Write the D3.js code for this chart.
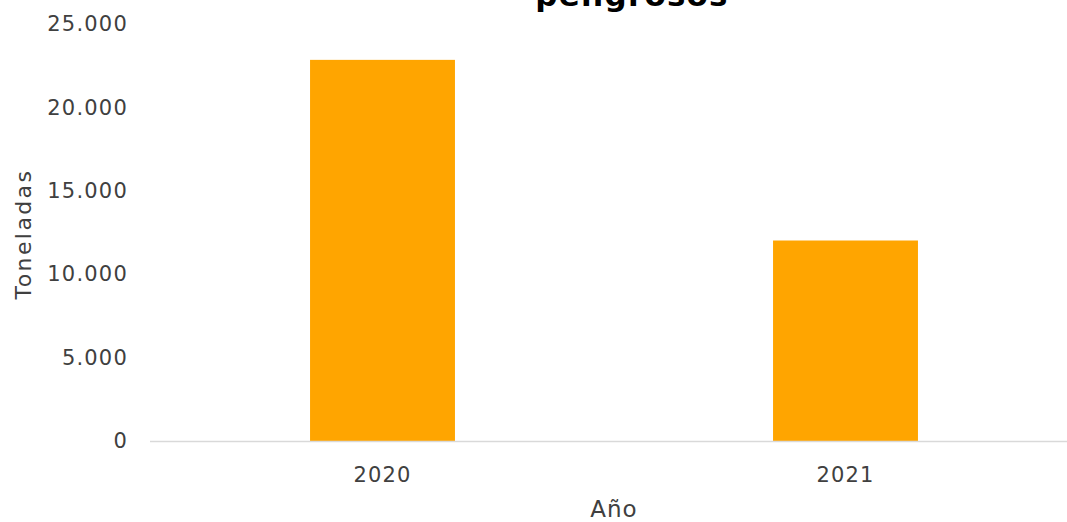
<!DOCTYPE html>
<html>
<head>
<meta charset="utf-8">
<script src="https://cdn.jsdelivr.net/npm/d3@7"></script>
<style>
  html, body { margin: 0; padding: 0; background: #ffffff; }
  svg { display: block; }
  text { font-family: "DejaVu Sans", sans-serif; fill: #404040; }
</style>
</head>
<body>
<svg id="chart" width="1067" height="522"></svg>
<script>
// Toneladas de residuos peligrosos por año
const years = ["2020", "2021"];
const tonnes = [22850, 12020];
const yTicks = [0, 5000, 10000, 15000, 20000, 25000];

const W = 1067, H = 522;
const margin = { left: 150, right: 0, top: 24, bottom: 81 };
const svg = d3.select("#chart");

const x = d3.scaleBand()
  .domain(years)
  .range([151, 1077])
  .paddingInner(0.687)
  .paddingOuter(0.3435);

const y = d3.scaleLinear()
  .domain([0, 25000])
  .range([H - margin.bottom, margin.top]);

const fmt = d3.formatLocale({ decimal: ",", thousands: ".", grouping: [3], currency: ["", ""] }).format(",.0f");

// title (second line of the heading)
svg.append("text")
  .attr("x", 632).attr("y", 6)
  .attr("text-anchor", "middle")
  .style("font-size", "31px")
  .style("font-weight", "bold")
  .style("letter-spacing", "1.2px")
  .style("fill", "#000")
  .text("peligrosos");

// y axis labels
const yAxis = d3.axisLeft(y).tickValues(yTicks).tickFormat(fmt).tickSize(0).tickPadding(22);
const gy = svg.append("g").attr("transform", `translate(${margin.left},0)`).call(yAxis);
gy.select(".domain").remove();
gy.selectAll("text")
  .style("font-family", "'DejaVu Sans', sans-serif")
  .style("font-size", "21px")
  .style("letter-spacing", "1.2px")
  .attr("fill", "#404040");

// bars
svg.append("g").selectAll("rect")
  .data(years.map((d, i) => ({ year: d, value: tonnes[i] })))
  .join("rect")
  .attr("x", d => x(d.year))
  .attr("width", x.bandwidth())
  .attr("y", d => y(d.value))
  .attr("height", d => y(0) - y(d.value))
  .attr("fill", "#FFA500");

// x axis
const xAxis = d3.axisBottom(x).tickSize(0).tickPadding(26);
const gx = svg.append("g").attr("transform", `translate(0,${y(0)})`).call(xAxis);
gx.select(".domain").remove();
gx.append("line")
  .attr("x1", margin.left).attr("x2", W)
  .attr("y1", 0.5).attr("y2", 0.5)
  .attr("stroke", "#d9d9d9").attr("stroke-width", 1.5);
gx.selectAll(".tick text")
  .style("font-family", "'DejaVu Sans', sans-serif")
  .style("font-size", "21px")
  .style("letter-spacing", "1.2px")
  .attr("fill", "#404040");

// axis titles
svg.append("text")
  .attr("x", 614).attr("y", 517)
  .attr("text-anchor", "middle")
  .style("font-size", "23px")
  .style("letter-spacing", "1px")
  .text("Año");

svg.append("text")
  .attr("transform", "translate(31,234) rotate(-90)")
  .attr("text-anchor", "middle")
  .style("font-size", "22px")
  .style("letter-spacing", "2.4px")
  .text("Toneladas");
</script>
</body>
</html>
